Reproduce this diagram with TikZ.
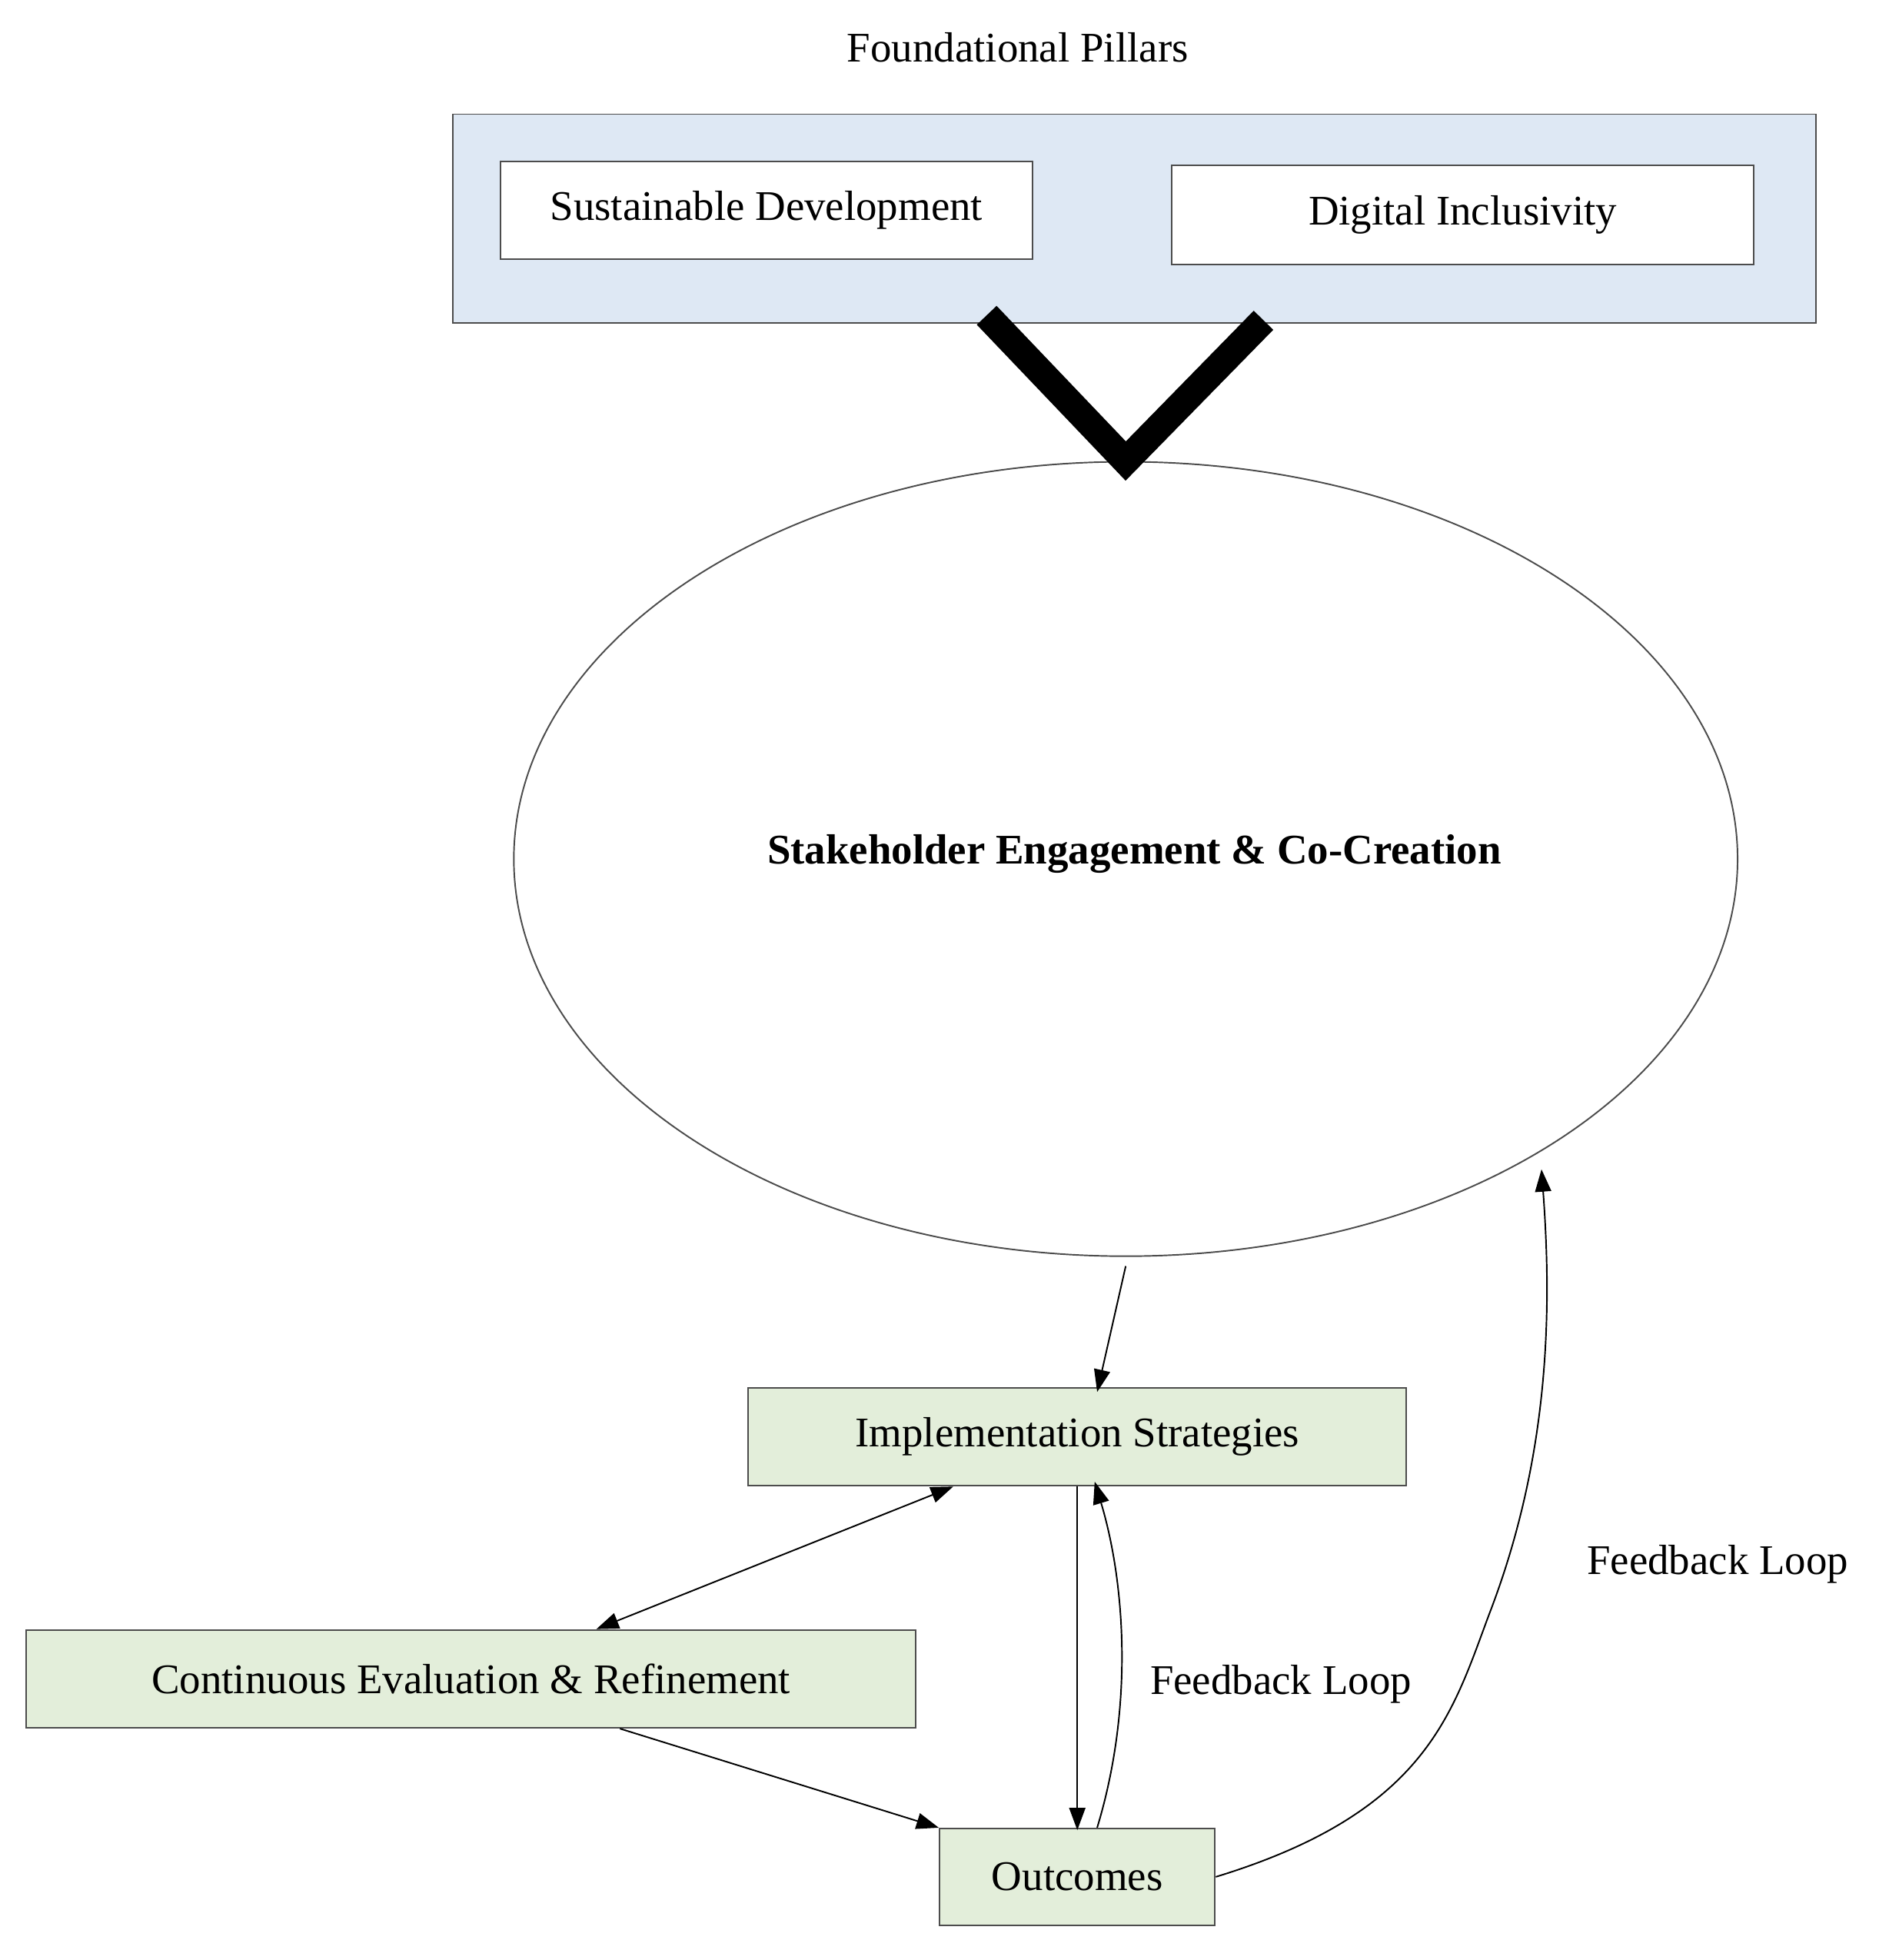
\documentclass[tikz,border=0pt]{standalone}
\usepackage{fontspec}
\setmainfont{Liberation Serif}
\usetikzlibrary{shapes.geometric,arrows.meta}
\definecolor{pblue}{HTML}{DEE8F4}
\definecolor{pgreen}{HTML}{E3EEDA}
\begin{document}
\begin{tikzpicture}[x=1pt,y=-1pt,
  txt/.style={font=\fontsize{34}{40}\selectfont},
  box/.style={draw=black!70,line width=1.2pt,inner sep=0pt},
  arr/.style={line width=1.2pt,-{Triangle[length=18pt,width=13pt]}},
  lbl/.style={txt,anchor=center}]
\useasboundingbox (0,0) rectangle (1530,1579);
\node[lbl] (title) at (820,38) {Foundational Pillars};
\node[box,fill=pblue,minimum width=1098pt,minimum height=168pt] (pillars) at (914,176) {};
\node[box,fill=white,minimum width=429pt,minimum height=79pt,txt] (sd) at (617.5,169.5) {Sustainable Development};
\node[box,fill=white,minimum width=469pt,minimum height=80pt,txt] (di) at (1178.5,173) {Digital Inclusivity};
\coordinate (vl) at (795,254);
\coordinate (vr) at (1018,258);
\node[draw=black!70,line width=1.2pt,ellipse,minimum width=986pt,minimum height=640pt,inner sep=0pt] (se) at (907,692) {};
\node[font=\fontsize{34}{40}\selectfont\bfseries] (setext) at (914,688) {Stakeholder Engagement \& Co-Creation};
\draw[line width=22pt,line join=miter] (vl) -- (se.north) -- (vr);
\node[box,fill=pgreen,minimum width=530pt,minimum height=79pt,txt] (impl) at (868,1157.5) {Implementation Strategies};
\node[box,fill=pgreen,minimum width=717pt,minimum height=79pt,txt] (cer) at (379.5,1352.5) {Continuous Evaluation \& Refinement};
\node[box,fill=pgreen,minimum width=222pt,minimum height=78pt,txt] (out) at (868,1512) {Outcomes};
\coordinate (s1) at (907,1020);
\draw[arr] (s1) -- ([xshift=16pt,yshift=-4pt]impl.north);
\draw[arr,{Triangle[length=18pt,width=13pt]}-{Triangle[length=18pt,width=13pt]}] ([xshift=-100pt]impl.south) -- ([xshift=101pt]cer.north);
\draw[arr] ([xshift=120pt]cer.south) -- (out.north west);
\draw[arr] (impl.south) -- ([yshift=-2pt]out.north);
\draw[arr] ([xshift=16pt]out.north) .. controls (915,1370) and (905,1270) .. ([xshift=14pt,yshift=4pt]impl.south);
\node[lbl] (fb1) at (1032,1357) {Feedback Loop};
\coordinate (fbend) at (1242,942);
\draw[arr] (out.east) .. controls (1150,1460) and (1170,1380) .. (1200,1300) .. controls (1250,1170) and (1250,1050) .. (fbend);
\node[lbl] (fb2) at (1384,1260) {Feedback Loop};
\end{tikzpicture}
\end{document}
